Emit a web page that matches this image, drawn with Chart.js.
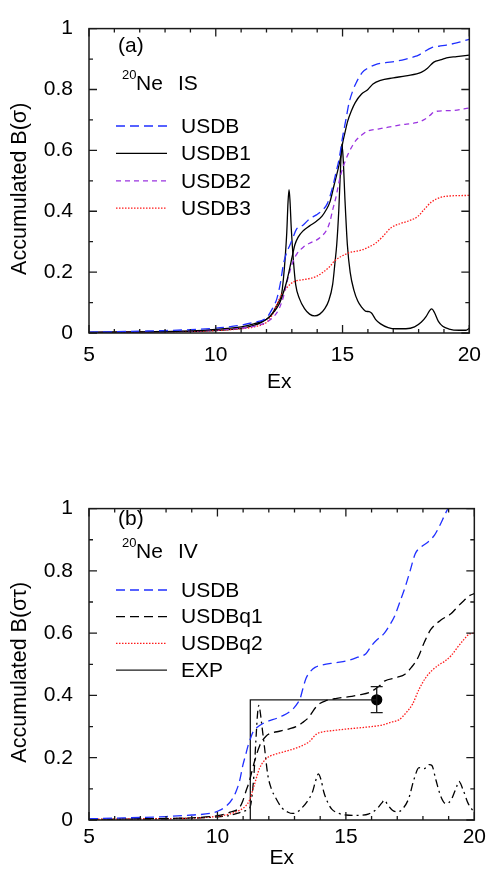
<!DOCTYPE html>
<html>
<head>
<meta charset="utf-8">
<script src="https://cdn.jsdelivr.net/npm/chart.js@4.4.1/dist/chart.umd.min.js"></script>
<style>
html, body { margin: 0; padding: 0; background: #fff; }
.panel { position: absolute; left: 0; width: 491px; }
#wrapA { top: 0; height: 400px; }
#wrapB { top: 480px; height: 397px; }
</style>
</head>
<body>
<div class="panel" id="wrapA"><canvas id="chartA"></canvas></div>
<div class="panel" id="wrapB"><canvas id="chartB"></canvas></div>
<script>
// ---- (a) 20Ne IS : accumulated B(sigma) vs Ex ----
const isUsdbEx  = [5, 6, 7, 8, 9, 10, 10.5, 11, 11.5, 12, 12.2, 12.41, 12.55, 12.67, 12.8, 12.93, 13.05, 13.19, 13.45, 13.7, 13.97, 14.22, 14.4, 14.61, 14.75, 14.87, 15.0, 15.13, 15.26, 15.4, 15.52, 15.78, 16.0, 16.3, 16.7, 17.07, 17.5, 17.84, 18.0, 18.2, 18.5, 18.8, 19.1, 19.5, 20];
const isUsdbVal = [0.003, 0.004, 0.006, 0.008, 0.011, 0.016, 0.02, 0.026, 0.035, 0.05, 0.075, 0.113, 0.165, 0.227, 0.265, 0.29, 0.315, 0.342, 0.355, 0.375, 0.388, 0.405, 0.425, 0.48, 0.53, 0.575, 0.643, 0.70, 0.757, 0.795, 0.819, 0.856, 0.87, 0.882, 0.888, 0.892, 0.90, 0.908, 0.913, 0.923, 0.937, 0.942, 0.946, 0.953, 0.965];

const isUsdb1Ex  = [5, 7, 9, 10, 11, 11.5, 12.0, 12.3, 12.5, 12.67, 12.8, 12.93, 13.05, 13.12, 13.25, 13.45, 13.7, 13.97, 14.2, 14.35, 14.5, 14.67, 14.8, 14.93, 15.0, 15.1, 15.2, 15.35, 15.5, 15.75, 16.0, 16.2, 16.5, 17.0, 17.5, 18.1, 18.35, 18.6, 18.9, 19.1, 19.5, 20];
const isUsdb1Val = [0.002, 0.004, 0.007, 0.012, 0.02, 0.03, 0.045, 0.07, 0.095, 0.134, 0.17, 0.218, 0.265, 0.29, 0.315, 0.336, 0.352, 0.367, 0.385, 0.404, 0.43, 0.487, 0.53, 0.58, 0.622, 0.66, 0.695, 0.73, 0.757, 0.785, 0.80, 0.818, 0.83, 0.838, 0.845, 0.856, 0.87, 0.89, 0.898, 0.904, 0.908, 0.913];

// USDB1 strength distribution (not accumulated)
const isUsdb1DistEx  = [5, 8, 10, 11, 11.5, 11.8, 12.0, 12.2, 12.4, 12.5, 12.6, 12.67, 12.74, 12.8, 12.85, 12.89, 12.93, 12.98, 13.06, 13.15, 13.3, 13.5, 13.7, 13.9, 14.1, 14.3, 14.45, 14.61, 14.7, 14.77, 14.85, 14.92, 14.97, 15.02, 15.1, 15.19, 15.3, 15.45, 15.6, 15.75, 15.9, 16.05, 16.15, 16.3, 16.5, 16.8, 17.1, 17.5, 17.84, 18.1, 18.3, 18.45, 18.52, 18.62, 18.78, 18.95, 19.2, 19.6, 19.85, 20];
const isUsdb1DistVal = [0.002, 0.004, 0.008, 0.015, 0.025, 0.035, 0.045, 0.06, 0.09, 0.105, 0.13, 0.18, 0.25, 0.33, 0.43, 0.471, 0.43, 0.34, 0.24, 0.16, 0.113, 0.08, 0.062, 0.056, 0.062, 0.08, 0.105, 0.16, 0.23, 0.29, 0.40, 0.54, 0.62, 0.58, 0.43, 0.29, 0.20, 0.14, 0.105, 0.085, 0.072, 0.07, 0.065, 0.045, 0.03, 0.018, 0.014, 0.014, 0.02, 0.035, 0.055, 0.075, 0.079, 0.068, 0.038, 0.022, 0.013, 0.009, 0.009, 0.015];

const isUsdb2Ex  = [5, 7, 9, 10, 11, 11.5, 12.0, 12.3, 12.5, 12.67, 12.8, 12.93, 13.06, 13.2, 13.45, 13.7, 13.97, 14.2, 14.35, 14.5, 14.61, 14.75, 14.87, 15.0, 15.13, 15.26, 15.39, 15.52, 15.78, 16.0, 16.4, 16.8, 17.3, 17.84, 18.2, 18.45, 18.6, 19.0, 19.37, 20];
const isUsdb2Val = [0.002, 0.004, 0.006, 0.01, 0.016, 0.022, 0.035, 0.055, 0.08, 0.12, 0.165, 0.205, 0.238, 0.26, 0.282, 0.295, 0.305, 0.32, 0.335, 0.365, 0.404, 0.45, 0.50, 0.54, 0.57, 0.595, 0.615, 0.632, 0.652, 0.664, 0.67, 0.676, 0.684, 0.69, 0.70, 0.715, 0.726, 0.73, 0.731, 0.739];

const isUsdb3Ex  = [5, 7, 9, 10, 11, 11.5, 12.0, 12.2, 12.41, 12.55, 12.67, 12.93, 13.2, 13.45, 13.97, 14.2, 14.48, 14.7, 14.87, 15.1, 15.26, 15.5, 15.8, 16.05, 16.3, 16.6, 16.9, 17.3, 17.6, 17.97, 18.2, 18.5, 18.85, 19.2, 20];
const isUsdb3Val = [0.001, 0.003, 0.005, 0.008, 0.014, 0.02, 0.035, 0.055, 0.093, 0.12, 0.134, 0.16, 0.172, 0.175, 0.186, 0.198, 0.217, 0.238, 0.248, 0.258, 0.264, 0.268, 0.274, 0.283, 0.295, 0.318, 0.345, 0.36, 0.368, 0.383, 0.404, 0.43, 0.445, 0.45, 0.452];

// ---- (b) 20Ne IV : accumulated B(sigma tau) vs Ex ----
const ivUsdbEx  = [5, 6, 7, 8, 9, 9.7, 10.0, 10.35, 10.6, 10.74, 10.86, 10.99, 11.1, 11.19, 11.3, 11.38, 11.55, 11.77, 12.0, 12.29, 12.55, 12.8, 12.98, 13.12, 13.22, 13.32, 13.45, 13.6, 13.8, 14.09, 14.6, 15.13, 15.5, 15.78, 16.0, 16.2, 16.5, 16.7, 16.9, 17.1, 17.3, 17.5, 17.7, 17.95, 18.2, 18.45, 18.65, 18.85, 19.0, 19.3, 20];
const ivUsdbVal = [0.004, 0.006, 0.008, 0.011, 0.016, 0.021, 0.028, 0.045, 0.07, 0.095, 0.125, 0.176, 0.21, 0.238, 0.265, 0.282, 0.298, 0.31, 0.318, 0.326, 0.335, 0.347, 0.36, 0.375, 0.39, 0.42, 0.455, 0.475, 0.49, 0.498, 0.505, 0.513, 0.524, 0.534, 0.56, 0.578, 0.60, 0.625, 0.655, 0.70, 0.746, 0.80, 0.855, 0.878, 0.893, 0.915, 0.945, 0.98, 1.005, 1.06, 1.15];

const ivUsdbq1Ex  = [5, 7, 9, 10, 10.5, 10.86, 10.99, 11.1, 11.24, 11.44, 11.64, 11.9, 12.15, 12.41, 12.8, 13.06, 13.3, 13.58, 13.72, 13.84, 14.0, 14.22, 14.6, 15.13, 15.5, 15.9, 16.3, 16.5, 17.0, 17.3, 17.55, 17.8, 18.05, 18.3, 18.7, 19.1, 19.35, 19.6, 19.8, 20];
const ivUsdbq1Val = [0.002, 0.004, 0.007, 0.014, 0.025, 0.04, 0.062, 0.09, 0.124, 0.187, 0.238, 0.27, 0.28, 0.285, 0.293, 0.30, 0.312, 0.332, 0.35, 0.363, 0.375, 0.383, 0.39, 0.396, 0.402, 0.409, 0.43, 0.446, 0.458, 0.468, 0.49, 0.52, 0.57, 0.611, 0.642, 0.663, 0.685, 0.705, 0.72, 0.727];

const ivUsdbq2Ex  = [5, 7, 9, 10, 10.5, 10.86, 11.0, 11.1, 11.24, 11.44, 11.64, 11.9, 12.2, 12.54, 13.19, 13.58, 13.84, 14.1, 14.48, 15.0, 15.78, 16.4, 16.8, 17.07, 17.35, 17.6, 17.85, 18.1, 18.35, 18.6, 18.85, 19.1, 19.35, 19.6, 19.8, 20];
const ivUsdbq2Val = [0.002, 0.004, 0.006, 0.012, 0.02, 0.031, 0.038, 0.045, 0.062, 0.114, 0.166, 0.197, 0.21, 0.218, 0.235, 0.252, 0.275, 0.283, 0.287, 0.292, 0.298, 0.305, 0.315, 0.322, 0.345, 0.373, 0.42, 0.456, 0.48, 0.497, 0.51, 0.528, 0.555, 0.58, 0.597, 0.60];

// USDBq1 strength distribution (dash-dot, no legend entry)
const ivDistEx  = [5, 8, 10, 10.5, 10.9, 11.1, 11.2, 11.3, 11.42, 11.5, 11.56, 11.61, 11.66, 11.72, 11.81, 11.96, 12.1, 12.26, 12.5, 12.75, 12.93, 13.1, 13.3, 13.5, 13.7, 13.82, 13.93, 14.03, 14.14, 14.3, 14.45, 14.7, 15.0, 15.5, 15.9, 16.2, 16.4, 16.5, 16.62, 16.8, 17.0, 17.2, 17.45, 17.65, 17.85, 18.05, 18.25, 18.35, 18.5, 18.7, 18.9, 19.1, 19.3, 19.4, 19.55, 19.75, 19.9, 20];
const ivDistVal = [0.002, 0.004, 0.01, 0.015, 0.025, 0.03, 0.035, 0.05, 0.145, 0.26, 0.34, 0.368, 0.35, 0.31, 0.249, 0.145, 0.10, 0.072, 0.04, 0.025, 0.021, 0.025, 0.04, 0.06, 0.09, 0.125, 0.148, 0.13, 0.09, 0.055, 0.035, 0.022, 0.016, 0.015, 0.02, 0.035, 0.055, 0.064, 0.05, 0.032, 0.026, 0.035, 0.07, 0.13, 0.168, 0.165, 0.178, 0.175, 0.13, 0.075, 0.052, 0.065, 0.105, 0.124, 0.10, 0.055, 0.035, 0.026];

// experimental running sum (stepped) and the final measured point
const expEx  = [11.28, 11.28, 13.36, 16.2];
const expVal = [0, 0.368, 0.386, 0.386];
const expPointEx  = [16.2];
const expPointVal = [0.386];
const expPointErrLo = [0.345];
const expPointErrHi = [0.428];

const xTicks = [5, 10, 15, 20];

const FONT = '"Liberation Sans", Arial, Helvetica, sans-serif';
const INK = '#1a1a1a';

function pts(xs, ys) { return xs.map((x, i) => ({ x: x, y: ys[i] })); }

function curve(label, xs, ys, color, dash, extra) {
    return Object.assign({
        label: label,
        data: pts(xs, ys),
        borderColor: color,
        backgroundColor: color,
        borderWidth: 1.3,
        borderDash: dash,
        pointRadius: 0,
        fill: false,
        cubicInterpolationMode: 'monotone'
    }, extra || {});
}

// frame with inward ticks on all four sides
const framePlugin = {
    id: 'frame',
    afterDatasetsDraw(chart) {
        const ctx = chart.ctx, a = chart.chartArea;
        const xs = chart.scales.x, ys = chart.scales.y;
        ctx.save();
        ctx.strokeStyle = INK;
        ctx.lineWidth = 1.3;
        ctx.beginPath();
        for (let v = 5; v <= 20; v++) {
            const p = xs.getPixelForValue(v);
            const len = (v % 5 === 0) ? 8 : 4;
            ctx.moveTo(p, a.bottom); ctx.lineTo(p, a.bottom - len);
            ctx.moveTo(p, a.top); ctx.lineTo(p, a.top + len);
        }
        for (let k = 0; k <= 10; k++) {
            const p = ys.getPixelForValue(k / 10);
            const len = (k % 2 === 0) ? 8 : 4;
            ctx.moveTo(a.left, p); ctx.lineTo(a.left + len, p);
            ctx.moveTo(a.right, p); ctx.lineTo(a.right - len, p);
        }
        ctx.stroke();
        ctx.lineWidth = 1.5;
        ctx.strokeRect(a.left, a.top, a.right - a.left, a.bottom - a.top);
        ctx.restore();
    }
};

// in-plot legend, panel captions and the rotated y title
const notesPlugin = {
    id: 'notes',
    afterDraw(chart, args, opts) {
        const ctx = chart.ctx, a = chart.chartArea;
        ctx.save();
        ctx.fillStyle = '#000';
        ctx.textAlign = 'left';
        ctx.textBaseline = 'alphabetic';
        ctx.font = '21px ' + FONT;
        ctx.fillText(opts.tag, 118, opts.tagY);
        ctx.font = '13px ' + FONT;
        ctx.fillText('20', 122, opts.supY);
        ctx.font = '21px ' + FONT;
        ctx.fillText('Ne', 136, opts.nucY);
        ctx.fillText(opts.mode, 178, opts.nucY);

        ctx.textBaseline = 'middle';
        opts.entries.forEach((e, i) => {
            const ds = chart.data.datasets[e.index];
            const y = opts.legendY + i * opts.legendGap;
            ctx.save();
            ctx.strokeStyle = ds.borderColor;
            ctx.lineWidth = ds.borderWidth;
            ctx.setLineDash(ds.borderDash || []);
            ctx.beginPath();
            ctx.moveTo(116, y);
            ctx.lineTo(167, y);
            ctx.stroke();
            ctx.restore();
            ctx.fillText(ds.label, 181, y + 1);
        });

        ctx.save();
        ctx.translate(20, (a.top + a.bottom) / 2 + 8);
        ctx.rotate(-Math.PI / 2);
        ctx.textAlign = 'center';
        ctx.font = '21.5px ' + FONT;
        ctx.fillText(opts.yTitle, 0, 0);
        ctx.restore();
        ctx.restore();
    }
};

// vertical error bar on the measured point
const errorBarPlugin = {
    id: 'errorBar',
    afterDatasetsDraw(chart, args, opts) {
        if (!opts.enabled) return;
        const ctx = chart.ctx, xs = chart.scales.x, ys = chart.scales.y;
        ctx.save();
        ctx.strokeStyle = INK;
        ctx.lineWidth = 1.3;
        ctx.beginPath();
        expPointEx.forEach((x, i) => {
            const px = xs.getPixelForValue(x);
            const lo = ys.getPixelForValue(expPointErrLo[i]);
            const hi = ys.getPixelForValue(expPointErrHi[i]);
            ctx.moveTo(px, lo); ctx.lineTo(px, hi);
            ctx.moveTo(px - 6, lo); ctx.lineTo(px + 6, lo);
            ctx.moveTo(px - 6, hi); ctx.lineTo(px + 6, hi);
        });
        ctx.stroke();
        ctx.restore();
    }
};

function panelOptions(cfg) {
    return {
        responsive: true,
        maintainAspectRatio: false,
        animation: false,
        devicePixelRatio: 1,
        layout: { padding: { top: cfg.padTop, right: 15, left: 0, bottom: 0 } },
        plugins: {
            legend: { display: false },
            tooltip: { enabled: false },
            notes: cfg.notes,
            errorBar: { enabled: cfg.errorBar }
        },
        scales: {
            x: {
                type: 'linear',
                min: 5, max: 20,
                afterBuildTicks: axis => { axis.ticks = xTicks.map(v => ({ value: v })); },
                afterFit: axis => { axis.height = cfg.xHeight; },
                grid: { display: false, drawTicks: false },
                border: { display: false },
                ticks: { color: '#000', font: { family: FONT, size: 21 }, padding: cfg.xPad, maxRotation: 0, autoSkip: false },
                title: { display: true, text: 'Ex', color: '#000', font: { family: FONT, size: 21 }, padding: { top: 0, bottom: cfg.titlePad } }
            },
            y: {
                min: 0, max: 1,
                afterBuildTicks: axis => { axis.ticks = [0, 0.2, 0.4, 0.6, 0.8, 1].map(v => ({ value: v })); },
                afterFit: axis => { axis.width = 89; },
                grid: { display: false, drawTicks: false },
                border: { display: false },
                ticks: {
                    color: '#000', font: { family: FONT, size: 21 }, padding: 16,
                    callback: v => (v === 0 || v === 1) ? String(v) : v.toFixed(1)
                }
            }
        }
    };
}

new Chart(document.getElementById('chartA'), {
    type: 'line',
    data: {
        datasets: [
            curve('USDB', isUsdbEx, isUsdbVal, '#1f2fff', [9, 5]),
            curve('USDB1', isUsdb1Ex, isUsdb1Val, '#000000', []),
            curve('USDB2', isUsdb2Ex, isUsdb2Val, '#9a33e0', [5, 4]),
            curve('USDB3', isUsdb3Ex, isUsdb3Val, '#ff1a1a', [1.5, 1.5]),
            curve('USDB1 strength', isUsdb1DistEx, isUsdb1DistVal, '#000000', [])
        ]
    },
    options: panelOptions({
        padTop: 12, xHeight: 67, xPad: 10, titlePad: 5,
        errorBar: false,
        notes: {
            tag: '(a)', tagY: 52, supY: 79, nucY: 90, mode: 'IS',
            yTitle: 'Accumulated B(σ)',
            legendY: 126, legendGap: 27.4,
            entries: [{ index: 0 }, { index: 1 }, { index: 2 }, { index: 3 }]
        }
    }),
    plugins: [framePlugin, notesPlugin, errorBarPlugin]
});

new Chart(document.getElementById('chartB'), {
    type: 'line',
    data: {
        datasets: [
            curve('USDB', ivUsdbEx, ivUsdbVal, '#1f2fff', [9, 5]),
            curve('USDBq1', ivUsdbq1Ex, ivUsdbq1Val, '#000000', [9, 5]),
            curve('USDBq2', ivUsdbq2Ex, ivUsdbq2Val, '#ff1a1a', [1.5, 1.5]),
            curve('EXP', expEx, expVal, '#1a1a1a', [], { stepped: 'after', cubicInterpolationMode: 'default', tension: 0 }),
            curve('USDBq1 strength', ivDistEx, ivDistVal, '#000000', [8, 4, 2, 4]),
            curve('EXP point', expPointEx, expPointVal, '#000000', [], { showLine: false, pointRadius: 5, pointStyle: 'circle' })
        ]
    },
    options: panelOptions({
        padTop: 18, xHeight: 57, xPad: 5, titlePad: 6,
        errorBar: true,
        notes: {
            tag: '(b)', tagY: 45, supY: 67, nucY: 78, mode: 'IV',
            yTitle: 'Accumulated B(στ)',
            legendY: 110, legendGap: 26.7,
            entries: [{ index: 0 }, { index: 1 }, { index: 2 }, { index: 3 }]
        }
    }),
    plugins: [framePlugin, notesPlugin, errorBarPlugin]
});
</script>
</body>
</html>
